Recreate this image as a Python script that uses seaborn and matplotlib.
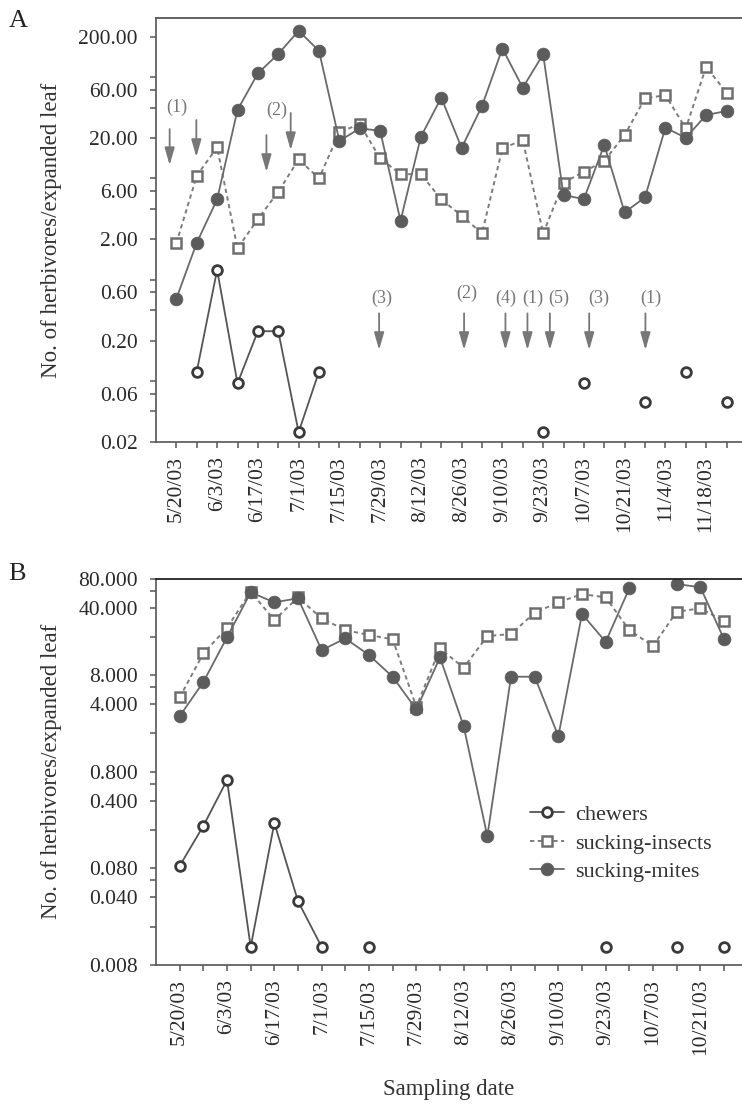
import numpy as np
import pandas as pd
import matplotlib
matplotlib.use("Agg")
import matplotlib.pyplot as plt
import seaborn as sns
from matplotlib.lines import Line2D
from matplotlib.ticker import NullLocator

nan = np.nan

# ---------------- data ----------------
dates_A = ['5/20/03', '5/27/03', '6/3/03', '6/10/03', '6/17/03', '6/24/03', '7/1/03', '7/8/03',
           '7/15/03', '7/22/03', '7/29/03', '8/5/03', '8/12/03', '8/19/03', '8/26/03', '9/2/03',
           '9/10/03', '9/16/03', '9/23/03', '9/30/03', '10/7/03', '10/14/03', '10/21/03', '10/28/03',
           '11/4/03', '11/11/03', '11/18/03', '11/25/03']
chewers_A = [nan, 0.099, 1.0, 0.076, 0.248, 0.248, 0.025, 0.099,
             nan, nan, nan, nan, nan, nan, nan, nan, nan, nan,
             0.025, nan, 0.076, nan, nan, 0.05, nan, 0.099, nan, 0.05]
insects_A = [1.83, 8.49, 16.2, 1.63, 3.17, 5.9, 12.3, 8.0, 22.8, 27.5, 12.6, 8.8, 8.8, 4.96,
             3.42, 2.29, 15.8, 19.1, 2.29, 7.24, 9.3, 11.9, 21.4, 49.3, 53.0, 24.9, 101.0, 56.0]
mites_A = [0.52, 1.85, 4.96, 37.8, 87.0, 135.0, 229.0, 145.0, 18.7, 24.9, 23.6, 3.05, 20.6, 50.0,
           16.0, 41.4, 153.0, 62.8, 134.0, 5.47, 5.0, 17.1, 3.69, 5.2, 25.3, 20.1, 33.7, 37.0]

dates_B = ['5/20/03', '5/27/03', '6/3/03', '6/10/03', '6/17/03', '6/24/03', '7/1/03', '7/8/03',
           '7/15/03', '7/22/03', '7/29/03', '8/5/03', '8/12/03', '8/19/03', '8/26/03', '9/2/03',
           '9/10/03', '9/16/03', '9/23/03', '9/30/03', '10/7/03', '10/14/03', '10/21/03', '10/28/03']
chewers_B = [0.0848, 0.22, 0.655, 0.0123, 0.236, 0.0366, 0.0123, nan, 0.0123,
             nan, nan, nan, nan, nan, nan, nan, nan, nan,
             0.0123, nan, nan, 0.0123, nan, 0.0123]
insects_B = [4.71, 13.4, 24.7, 58.4, 29.7, 51.0, 30.9, 23.4, 20.8, 18.8, 3.76, 15.1, 9.53, 20.3,
             21.3, 35.4, 45.3, 55.2, 51.0, 23.4, 16.0, 36.2, 39.3, 29.0]
mites_B = [3.01, 6.78, 19.7, 57.5, 45.3, 49.9, 14.5, 19.2, 12.9, 7.69, 3.53, 12.2, 2.37, 0.172,
           7.7, 7.7, 1.87, 34.3, 17.7, 63.3, nan, 70.2, 64.9, 18.9]

series_names = ['chewers', 'sucking-insects', 'sucking-mites']

yticks_A = [0.02, 0.04, 0.06, 0.08, 0.2, 0.4, 0.6, 0.8, 2, 4, 6, 8, 20, 40, 60, 80, 200]
ylabels_A = ['0.02', '', '0.06', '', '0.20', '', '0.60', '', '2.00', '', '6.00', '', '20.00', '',
             '60.00', '', '200.00']
yticks_B = [0.008, 0.02, 0.04, 0.06, 0.08, 0.2, 0.4, 0.6, 0.8, 2, 4, 6, 8, 20, 40, 60, 80]
ylabels_B = ['0.008', '', '0.040', '', '0.080', '', '0.400', '', '0.800', '', '4.000', '', '8.000',
             '', '40.000', '', '80.000']

# treatment arrows in panel A (x in sampling-index units, y tops/bottoms)
arrow_x = [-0.33, 0.98, 4.42, 5.61, 9.95, 14.12, 16.15, 17.23, 18.33, 20.26, 23.02]
arrow_top = [24.5, 30.1, 21.4, 35.3, 0.372, 0.372, 0.372, 0.372, 0.372, 0.372, 0.372]
arrow_bot = [10.8, 13.0, 9.25, 15.2, 0.162, 0.162, 0.162, 0.162, 0.162, 0.162, 0.162]
arrow_text = ['(1)', '(2)', '(3)', '(2)', '(4)', '(1)', '(5)', '(3)', '(1)']
arrow_text_x = [0.0, 4.91, 10.06, 14.23, 16.17, 17.48, 18.77, 20.75, 23.27]
arrow_text_y = [40.5, 37.8, 0.52, 0.58, 0.52, 0.52, 0.52, 0.52, 0.52]

# ---------------- style ----------------
sns.set_theme(style="ticks")
plt.rcParams['font.family'] = ['Liberation Serif', 'DejaVu Serif']
plt.rcParams['text.color'] = '#333333'

AX_COL = '#555555'
styles = {
    'chewers': dict(color='#555555', linewidth=1.3, linestyle='-', marker='o', markersize=7.0,
                    markerfacecolor='white', markeredgecolor='#3a3a3a', markeredgewidth=2.0),
    'sucking-insects': dict(color='#7c7c7c', linewidth=1.4, linestyle=(0, (2.2, 1.8)), marker='s',
                            markersize=6.8, markerfacecolor='white', markeredgecolor='#6e6e6e',
                            markeredgewidth=1.8),
    'sucking-mites': dict(color='#6a6a6a', linewidth=1.3, linestyle='-', marker='o', markersize=9.2,
                          markerfacecolor='#5c5c5c', markeredgecolor='#5c5c5c', markeredgewidth=0.5),
}

W, H = 742, 1104
fig = plt.figure(figsize=(W / 100, H / 100), dpi=100)
axA = fig.add_axes([156 / W, 1 - 442 / H, 1 - 156 / W, (442 - 18) / H])
axB = fig.add_axes([156 / W, 1 - 965 / H, 1 - 156 / W, (965 - 578.5) / H])


def draw(ax, values, name):
    v = np.array(values, dtype=float)
    seg = np.cumsum(np.isnan(v))
    df = pd.DataFrame({'x': np.arange(len(v)), 'y': v, 'seg': seg}).dropna()
    sns.lineplot(data=df, x='x', y='y', units='seg', estimator=None, sort=False,
                 legend=False, ax=ax, **styles[name])


def style_axis(ax, dates, yticks, ylabels, ylim, top_col):
    ax.set_yscale('log')
    ax.set_ylim(*ylim)
    n = len(dates)
    ax.set_xlim(-1, n - 1 + 0.76)
    ax.set_yticks(yticks)
    ax.set_yticklabels(ylabels)
    ax.yaxis.set_minor_locator(NullLocator())
    ax.set_xticks(range(n))
    ax.set_xticklabels([d if i % 2 == 0 else '' for i, d in enumerate(dates)], rotation=90)
    ax.tick_params(axis='y', direction='out', length=4, width=1.1, color=AX_COL,
                   labelsize=15.5, pad=9, labelcolor='#2a2a2a')
    ax.tick_params(axis='x', direction='out', length=4, width=1.1, color=AX_COL,
                   labelsize=15.5, pad=6, labelcolor='#2a2a2a')
    for s in ['left', 'bottom']:
        ax.spines[s].set_color(AX_COL)
        ax.spines[s].set_linewidth(1.2)
    ax.spines['top'].set_visible(True)
    ax.spines['top'].set_color(top_col)
    ax.spines['top'].set_linewidth(1.3)
    ax.spines['right'].set_visible(False)
    ax.set_xlabel('')
    ax.set_ylabel('No. of herbivores/expanded leaf', fontsize=16.5, va='center', color='#333333')
    ax.yaxis.set_label_coords(-0.179, 0.5)


for ax, data, dates in [(axA, (chewers_A, insects_A, mites_A), dates_A),
                        (axB, (chewers_B, insects_B, mites_B), dates_B)]:
    for name, vals in zip(series_names, data):
        draw(ax, vals, name)

style_axis(axA, dates_A, yticks_A, ylabels_A, (0.02, 306), '#555555')
style_axis(axB, dates_B, yticks_B, ylabels_B, (0.008, 80), '#222222')

# arrows
for x, t, b in zip(arrow_x, arrow_top, arrow_bot):
    axA.annotate('', xy=(x, b), xytext=(x, t),
                 arrowprops=dict(arrowstyle='-|>,head_length=0.7,head_width=0.2', color='#777777',
                                 lw=1.3, shrinkA=0, shrinkB=0, mutation_scale=15))
for s, x, y in zip(arrow_text, arrow_text_x, arrow_text_y):
    axA.text(x, y, s, ha='center', va='center', fontsize=13, color='#777777')

# legend
handles = [Line2D([], [], **styles[n]) for n in series_names]
axB.legend(handles, series_names, loc='upper left', bbox_to_anchor=(0.638, 0.415), frameon=False,
           borderpad=0, borderaxespad=0, handlelength=1.55, handletextpad=0.5, labelspacing=0.36,
           fontsize=16)

axB.set_xlabel('Sampling date', fontsize=16.5, va='center', color='#333333')
axB.xaxis.set_label_coords(0.5, -0.3234)

fig.text(9 / W, 1 - 21 / H, 'A', fontsize=19, ha='left', va='center', color='#222222')
fig.text(8 / W, 1 - 574 / H, 'B', fontsize=19, ha='left', va='center', color='#222222')

fig.savefig('out.png', dpi=100, facecolor='white')
